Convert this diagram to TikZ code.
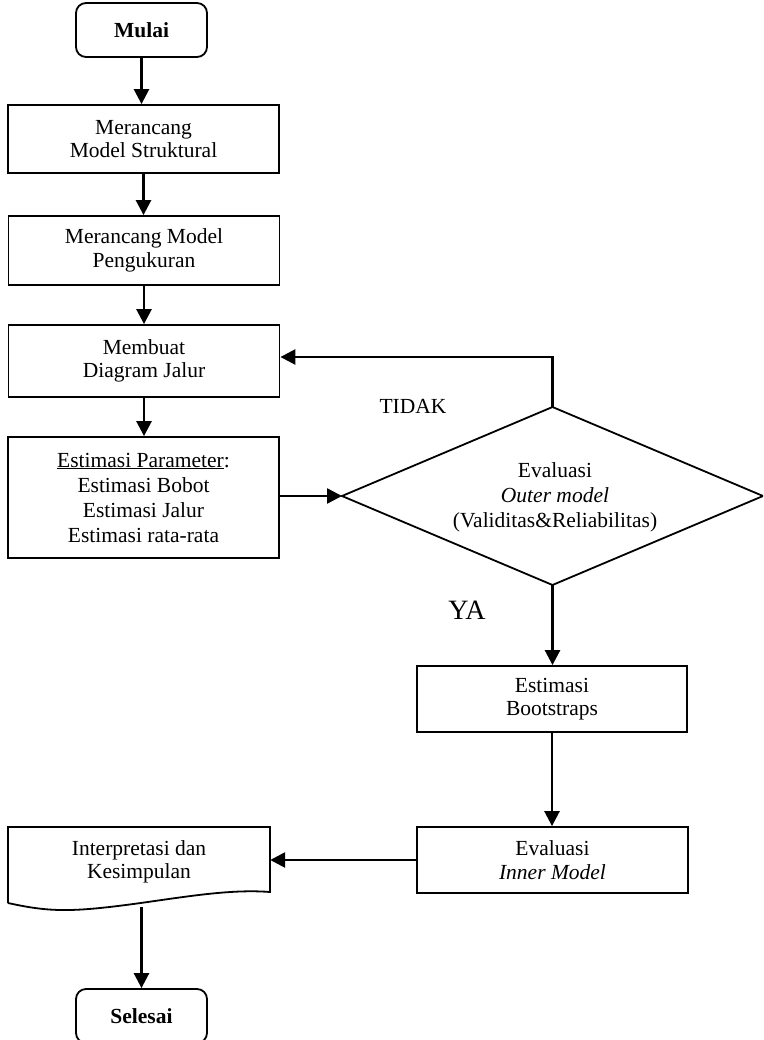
\documentclass[tikz,border=0pt]{standalone}
\usepackage{fontspec}
\setmainfont{Liberation Serif}
\usetikzlibrary{arrows.meta}
\begin{document}
\begin{tikzpicture}[x=1pt,y=-1pt,
  every node/.style={font=\fontsize{21.5}{23.5}\selectfont},
  boxnode/.style={draw,line width=1.8pt,rectangle,minimum width=271pt,align=center,inner sep=0pt},
  termnode/.style={draw,line width=1.8pt,rectangle,rounded corners=10pt,minimum width=131pt,minimum height=54pt,font=\fontsize{21.5}{23.5}\selectfont\bfseries},
  flow/.style={line width=2.6pt,-{Triangle[length=15pt,width=15pt]}},
  outline/.style={line width=1.8pt,line join=miter}
]
\useasboundingbox (0,0) rectangle (763,1040);
\clip (0,0) rectangle (763,1040);

\node[termnode] (mulai) at (141.5,30) {Mulai};
\node[boxnode,minimum height=68pt] (b1) at (143.5,139) {Merancang\\Model Struktural};
\node[boxnode,minimum height=69pt] (b2) at (144,250.5) {Merancang Model\\Pengukuran};
\node[boxnode,minimum height=72pt] (b3) at (144,361) {Membuat\\Diagram Jalur};
\node[boxnode,minimum height=121pt,font=\fontsize{21.5}{25}\selectfont] (b4) at (143.5,497.5)
  {\underline{Estimasi Parameter}:\\Estimasi Bobot\\Estimasi Jalur\\Estimasi rata-rata};

% decision diamond
\coordinate (diaN) at (552.5,407);
\coordinate (diaS) at (552.5,585);
\coordinate (diaW) at (342,496);
\coordinate (diaE) at (763,496);
\draw[outline] (diaN) -- (diaE) -- (diaS) -- (diaW) -- cycle;
\node[align=center,font=\fontsize{21.5}{25}\selectfont] (dia) at (555,497) {Evaluasi\\\textit{Outer model}\\(Validitas\&Reliabilitas)};

\node (tidak) at (413,406) {TIDAK};
\node[font=\fontsize{28}{30}\selectfont] (ya) at (467,610) {YA};
\node[boxnode,minimum width=270pt,minimum height=66pt] (b5) at (552,699) {Estimasi\\Bootstraps};
\node[boxnode,minimum height=66pt] (b6) at (552.5,860) {Evaluasi\\\textit{Inner Model}};
\node[minimum width=262pt,minimum height=65pt,inner sep=0pt,align=center] (doc) at (139,862) {Interpretasi dan\\Kesimpulan};
\draw[outline] (8,903) -- (8,827) -- (270,827) -- (270,892)
  .. controls (220,888) and (160,902) .. (100,908)
  .. controls (60,912) and (40,910) .. (8,903);
\coordinate (docbot) at (141.5,907);
\node[termnode] (selesai) at (141.5,1016) {Selesai};

\draw[flow] (mulai.south) -- (mulai.south |- b1.north);
\draw[flow] (b1.south) -- (b1.south |- b2.north);
\draw[flow] (b2.south) -- (b2.south |- b3.north);
\draw[flow] (b3.south) -- (b3.south |- b4.north);
\draw[flow] (b4.east |- diaW) -- (diaW);
\draw[flow] (diaN) |- ([yshift=4pt]b3.east);
\draw[flow] (diaS) -- (diaS |- b5.north);
\draw[flow] (b5.south) -- (b5.south |- b6.north);
\draw[flow] (b6.west) -- (b6.west -| doc.east);
\draw[flow] (docbot) -- (docbot |- selesai.north);
\end{tikzpicture}
\end{document}
